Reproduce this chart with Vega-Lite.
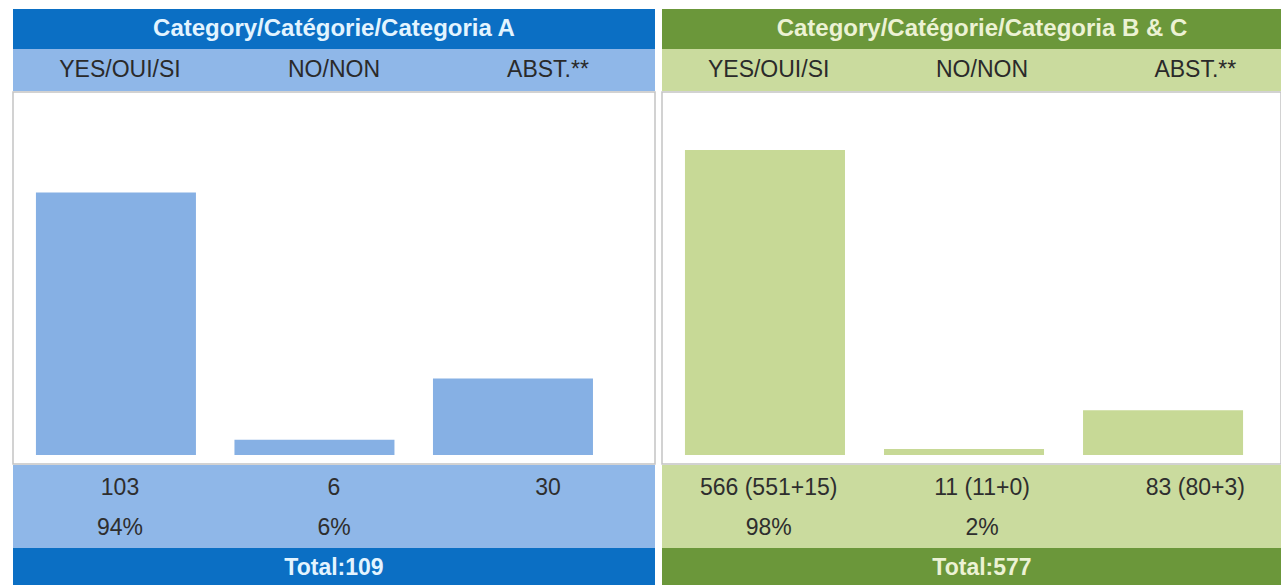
{
  "$schema": "https://vega.github.io/schema/vega-lite/v6.json",
  "background": "white",
  "padding": {"left": 12, "top": 9, "right": 0, "bottom": 0},
  "datasets": {
    "a": [
      {"cat": "YES", "label": "YES/OUI/SI", "n": 103, "count": "103", "pct": "94%"},
      {"cat": "NO", "label": "NO/NON", "n": 6, "count": "6", "pct": "6%"},
      {"cat": "ABST", "label": "ABST.**", "n": 30, "count": "30", "pct": ""}
    ],
    "bc": [
      {"cat": "YES", "label": "YES/OUI/SI", "n": 566, "count": "566 (551+15)", "pct": "98%"},
      {"cat": "NO", "label": "NO/NON", "n": 11, "count": "11 (11+0)", "pct": "2%"},
      {"cat": "ABST", "label": "ABST.**", "n": 83, "count": "83 (80+3)", "pct": ""}
    ],
    "ha": [{"h": "Category/Catégorie/Categoria A", "t": "Total:109"}],
    "hbc": [{"h": "Category/Catégorie/Categoria B & C", "t": "Total:577"}]
  },
  "spacing": 5,
  "hconcat": [
    {
      "spacing": 0,
      "vconcat": [
        {
          "width": 642, "height": 40,
          "view": {"fill": "#0b6fc4", "stroke": null},
          "data": {"name": "ha"},
          "mark": {"type": "text", "font": "Liberation Sans", "fontSize": 24, "fontWeight": "bold", "color": "#e3f4ff", "baseline": "middle"},
          "encoding": {
            "x": {"field": "h", "type": "nominal", "axis": null, "scale": {"type": "point", "padding": 0.5, "range": [0, 642]}},
            "text": {"field": "h"}
          }
        },
        {
          "width": 642, "height": 42,
          "view": {"fill": "#8fb7e8", "stroke": null},
          "data": {"name": "a"},
          "mark": {"type": "text", "font": "Liberation Sans", "fontSize": 23, "color": "#2a2a2a", "baseline": "middle"},
          "encoding": {
            "x": {"field": "cat", "type": "nominal", "axis": null, "sort": ["YES", "NO", "ABST"], "scale": {"type": "point", "padding": 0.5, "range": [0, 642]}},
            "text": {"field": "label"}
          }
        },
        {
          "width": 642, "height": 372,
          "view": {"fill": "white", "stroke": "#c4c4c4", "strokeWidth": 1.5},
          "data": {"name": "a"},
          "mark": {"type": "bar", "color": "#86b0e4"},
          "encoding": {
            "x": {"field": "cat", "type": "nominal", "axis": null, "sort": ["YES", "NO", "ABST"], "scale": {"type": "band", "paddingInner": 0.194, "paddingOuter": 0.214, "align": 0.27}},
            "y": {"field": "n", "type": "quantitative", "axis": null, "scale": {"domain": [-3.5, 142.4], "nice": false, "zero": false}}
          }
        },
        {
          "width": 642, "height": 83,
          "view": {"fill": "#8fb7e8", "stroke": null},
          "data": {"name": "a"},
          "transform": [{"fold": ["count", "pct"], "as": ["row", "txt"]}],
          "mark": {"type": "text", "font": "Liberation Sans", "fontSize": 23, "color": "#2e2e2e", "baseline": "middle"},
          "encoding": {
            "x": {"field": "cat", "type": "nominal", "axis": null, "sort": ["YES", "NO", "ABST"], "scale": {"type": "point", "padding": 0.5, "range": [0, 642]}},
            "y": {"field": "row", "type": "nominal", "axis": null, "sort": ["count", "pct"], "scale": {"type": "point", "padding": 0.54, "align": 0.53}},
            "text": {"field": "txt"}
          }
        },
        {
          "width": 642, "height": 39,
          "view": {"fill": "#0b6fc4", "stroke": null},
          "data": {"name": "ha"},
          "mark": {"type": "text", "font": "Liberation Sans", "fontSize": 23, "fontWeight": "bold", "color": "#e3f4ff", "baseline": "middle"},
          "encoding": {
            "x": {"field": "t", "type": "nominal", "axis": null, "scale": {"type": "point", "padding": 0.5, "range": [0, 642]}},
            "text": {"field": "t"}
          }
        }
      ]
    },
    {
      "spacing": 0,
      "vconcat": [
        {
          "width": 619, "height": 40,
          "view": {"fill": "#6b973a", "stroke": null},
          "data": {"name": "hbc"},
          "mark": {"type": "text", "font": "Liberation Sans", "fontSize": 24, "fontWeight": "bold", "color": "#ecf2d4", "baseline": "middle"},
          "encoding": {
            "x": {"field": "h", "type": "nominal", "axis": null, "scale": {"type": "point", "padding": 0.5, "range": [0, 640]}},
            "text": {"field": "h"}
          }
        },
        {
          "width": 619, "height": 42,
          "view": {"fill": "#cadb9e", "stroke": null},
          "data": {"name": "bc"},
          "mark": {"type": "text", "font": "Liberation Sans", "fontSize": 23, "color": "#2a2a2a", "baseline": "middle"},
          "encoding": {
            "x": {"field": "cat", "type": "nominal", "axis": null, "sort": ["YES", "NO", "ABST"], "scale": {"type": "point", "padding": 0.5, "range": [0, 640]}},
            "text": {"field": "label"}
          }
        },
        {
          "width": 619, "height": 372,
          "view": {"fill": "white", "stroke": "#c4c4c4", "strokeWidth": 1.5},
          "data": {"name": "bc"},
          "mark": {"type": "bar", "color": "#c7d996"},
          "encoding": {
            "x": {"field": "cat", "type": "nominal", "axis": null, "sort": ["YES", "NO", "ABST"], "scale": {"type": "band", "paddingInner": 0.196, "paddingOuter": 0.153, "align": 0.377}},
            "y": {"field": "n", "type": "quantitative", "axis": null, "scale": {"domain": [-16.7, 673.5], "nice": false, "zero": false}}
          }
        },
        {
          "width": 619, "height": 83,
          "view": {"fill": "#cadb9e", "stroke": null},
          "data": {"name": "bc"},
          "transform": [{"fold": ["count", "pct"], "as": ["row", "txt"]}],
          "mark": {"type": "text", "font": "Liberation Sans", "fontSize": 23, "color": "#2e2e2e", "baseline": "middle"},
          "encoding": {
            "x": {"field": "cat", "type": "nominal", "axis": null, "sort": ["YES", "NO", "ABST"], "scale": {"type": "point", "padding": 0.5, "range": [0, 640]}},
            "y": {"field": "row", "type": "nominal", "axis": null, "sort": ["count", "pct"], "scale": {"type": "point", "padding": 0.54, "align": 0.53}},
            "text": {"field": "txt"}
          }
        },
        {
          "width": 619, "height": 39,
          "view": {"fill": "#6b973a", "stroke": null},
          "data": {"name": "hbc"},
          "mark": {"type": "text", "font": "Liberation Sans", "fontSize": 23, "fontWeight": "bold", "color": "#ecf2d4", "baseline": "middle"},
          "encoding": {
            "x": {"field": "t", "type": "nominal", "axis": null, "scale": {"type": "point", "padding": 0.5, "range": [0, 640]}},
            "text": {"field": "t"}
          }
        }
      ]
    }
  ],
  "config": {
    "view": {"stroke": null}
  }
}
